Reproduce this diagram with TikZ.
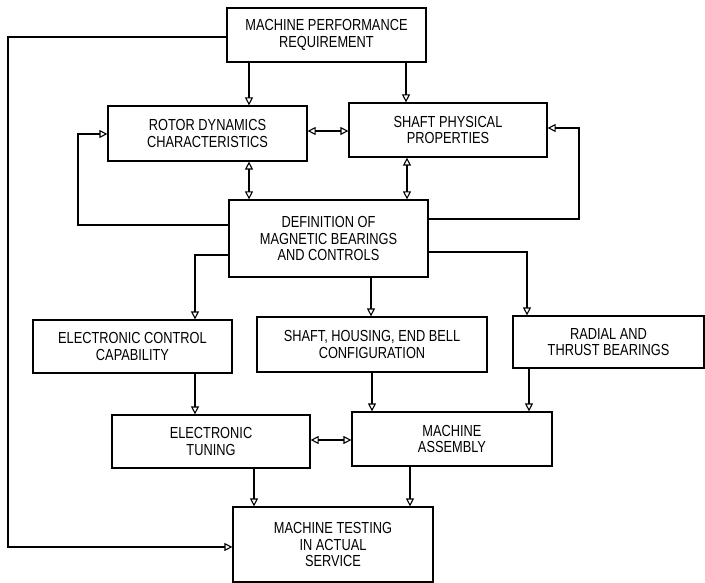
\documentclass[tikz,border=0pt]{standalone}
\usepackage{fontspec}
\setmainfont[FakeStretch=0.8]{Liberation Sans}
\usetikzlibrary{arrows.meta,calc}
\begin{document}
\begin{tikzpicture}[x=1pt,y=-1pt,
  box/.style={draw,line width=1.2pt,rectangle,align=center,inner sep=0pt,
    font=\fontsize{16}{16.5}\selectfont},
  arr/.style={line width=1.1pt,-{Triangle[open,length=8pt,width=8pt]}},
  darr/.style={line width=1.1pt,{Triangle[open,length=8pt,width=8pt]}-{Triangle[open,length=8pt,width=8pt]}},
  ln/.style={line width=1.1pt}]
\useasboundingbox (0,0) rectangle (705,583);
\node[box,minimum width=199pt,minimum height=54pt] (mpr) at (326.5,35) {MACHINE PERFORMANCE\\REQUIREMENT};
\node[box,minimum width=199pt,minimum height=55pt] (rotor) at (207.5,133.5) {ROTOR DYNAMICS\\CHARACTERISTICS};
\node[box,minimum width=198pt,minimum height=54pt] (shaft) at (448,130) {SHAFT PHYSICAL\\PROPERTIES};
\node[box,minimum width=199pt,minimum height=77pt] (def) at (328.5,238.5) {DEFINITION OF\\MAGNETIC BEARINGS\\AND CONTROLS};
\node[box,minimum width=199pt,minimum height=53pt] (ecc) at (132.5,346.5) {ELECTRONIC CONTROL\\CAPABILITY};
\node[box,minimum width=230pt,minimum height=55pt] (shc) at (372,344.5) {SHAFT, HOUSING, END BELL\\CONFIGURATION};
\node[box,minimum width=191pt,minimum height=52pt] (rtb) at (608.5,342) {RADIAL AND\\THRUST BEARINGS};
\node[box,minimum width=198pt,minimum height=53pt] (et) at (211,441.5) {ELECTRONIC\\TUNING};
\node[box,minimum width=200pt,minimum height=54pt] (ma) at (452,439) {MACHINE\\ASSEMBLY};
\node[box,minimum width=200pt,minimum height=75pt] (mt) at (333,544.5) {MACHINE TESTING\\IN ACTUAL\\SERVICE};
% reference coordinates
\coordinate (xa) at (249,0);
\coordinate (xb) at (406,0);
\coordinate (xc) at (407,0);
\coordinate (xd) at (195,0);
\coordinate (xe) at (371,0);
\coordinate (xg) at (372,0);
\coordinate (xh) at (529,0);
\coordinate (xi) at (254,0);
\coordinate (xj) at (410,0);
\coordinate (ya) at (0,131);
\coordinate (yb) at (0,440);
% top arrows
\draw[arr] (mpr.south -| xa) -- (rotor.north -| xa);
\draw[arr] (mpr.south -| xb) -- (shaft.north -| xb);
\draw[darr] (rotor.east |- ya) -- (shaft.west |- ya);
\draw[darr] (rotor.south -| xa) -- (def.north -| xa);
\draw[darr] (shaft.south -| xc) -- (def.north -| xc);
% feedback loops
\coordinate (l1) at (78,225);
\coordinate (l2) at (78,134);
\draw[arr] (def.west |- l1) -- (l1) -- (l2) -- (rotor.west |- l2);
\coordinate (r1) at (579,219);
\coordinate (r2) at (579,128);
\draw[arr] (def.east |- r1) -- (r1) -- (r2) -- (shaft.east |- r2);
% big left loop
\coordinate (b1) at (8,37);
\coordinate (b2) at (8,547);
\draw[arr] (mpr.west |- b1) -- (b1) -- (b2) -- (mt.west |- b2);
% from definition
\coordinate (d1) at (195,255);
\draw[arr] (def.west |- d1) -- (d1) -- (ecc.north -| d1);
\draw[arr] (def.south -| xe) -- (shc.north -| xe);
\coordinate (d2) at (527,252);
\draw[arr] (def.east |- d2) -- (d2) -- (rtb.north -| d2);
% lower
\draw[arr] (ecc.south -| xd) -- (et.north -| xd);
\draw[arr] (shc.south -| xg) -- (ma.north -| xg);
\draw[arr] (rtb.south -| xh) -- (ma.north -| xh);
\draw[darr] (et.east |- yb) -- (ma.west |- yb);
\draw[arr] (et.south -| xi) -- (mt.north -| xi);
\draw[arr] (ma.south -| xj) -- (mt.north -| xj);
\end{tikzpicture}
\end{document}
